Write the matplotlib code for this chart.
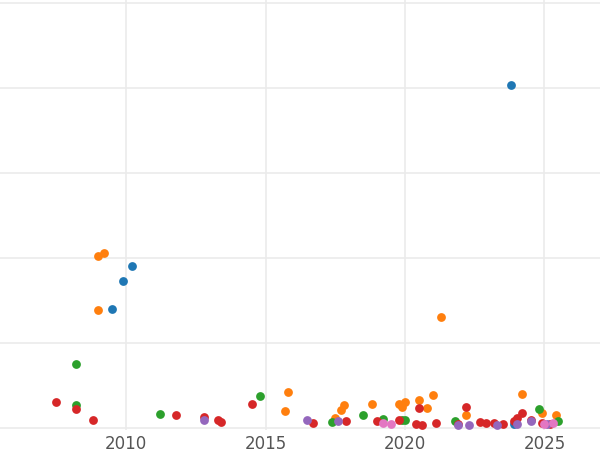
import matplotlib.pyplot as plt

def v(p): return (428 - p) / 85.0

blue_x = [2023.8, 2010.2, 2009.9, 2009.5, 2023.9]
blue_py = [85, 266, 281, 309, 424]
orange_x = [2009.0, 2009.2, 2009.0, 2021.3, 2015.8, 2015.7, 2017.8, 2017.7, 2017.5, 2018.8, 2019.8, 2020.0, 2019.9, 2020.5, 2020.8, 2021.0, 2022.2, 2024.2, 2024.9, 2025.4]
orange_py = [256, 253, 310, 317, 392, 411, 405, 410, 418, 404, 404, 402, 407, 400, 408, 395, 415, 394, 413, 415]
green_x = [2008.2, 2008.2, 2011.2, 2014.8, 2017.4, 2018.5, 2019.2, 2019.9, 2020.0, 2021.8, 2024.8, 2025.5]
green_py = [364, 405, 414, 396, 422, 415, 419, 420, 420, 421, 409, 421]
red_x = [2007.5, 2008.2, 2008.8, 2011.8, 2012.8, 2013.3, 2013.4, 2014.5, 2016.7, 2017.9, 2019.0, 2019.8, 2020.4, 2020.5, 2020.6, 2021.1, 2021.9, 2022.2, 2022.7, 2022.9, 2023.2, 2023.5, 2023.9, 2024.0, 2024.2, 2024.5, 2024.9, 2025.2]
red_py = [402, 409, 420, 415, 417, 420, 422, 404, 423, 421, 421, 420, 424, 408, 425, 423, 424, 407, 422, 423, 423, 424, 421, 418, 413, 420, 423, 424]
purple_x = [2012.8, 2016.5, 2017.6, 2021.9, 2022.3, 2023.3, 2024.0, 2024.5, 2025.1]
purple_py = [420, 420, 421, 425, 425, 425, 424, 421, 424]
pink_x = [2019.2, 2019.5, 2025.0, 2025.3]
pink_py = [423, 424, 424, 423]

series = [(blue_x, blue_py, '#1f77b4'), (orange_x, orange_py, '#ff7f0e'),
          (green_x, green_py, '#2ca02c'), (red_x, red_py, '#d62728'),
          (purple_x, purple_py, '#9467bd'), (pink_x, pink_py, '#e377c2')]

fig = plt.figure(figsize=(6, 4.5), dpi=100)
ax = fig.add_axes([0, 1 - 430/450, 1, 430/450])
for xs, pys, c in series:
    ax.scatter(xs, [v(p) for p in pys], color=c, s=40, zorder=3, linewidths=0)
ax.set_xlim(2005.48, 2026.99)
ax.set_ylim(v(430), v(0))
ax.set_xticks([2010, 2015, 2020, 2025])
ax.set_yticks([0, 1, 2, 3, 4, 5])
ax.set_yticklabels([])
ax.tick_params(length=0, labelsize=12, labelcolor='#555555', left=False)
ax.grid(True, color='#ebebeb', linewidth=1.2, zorder=0)
for s in ax.spines.values():
    s.set_visible(False)
fig.savefig('out.png', dpi=100)
